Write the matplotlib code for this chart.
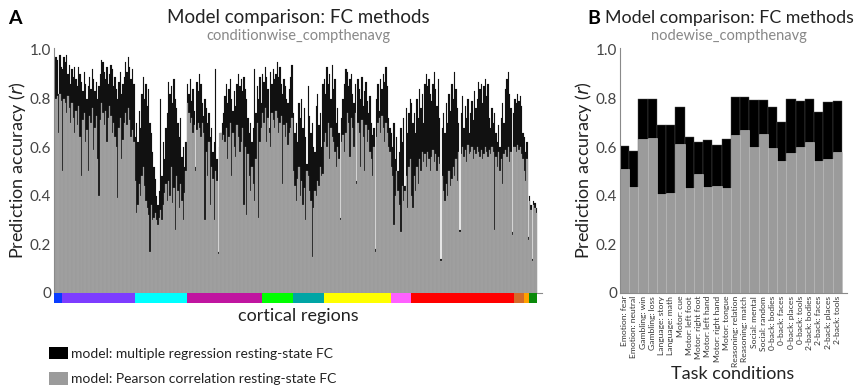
import numpy as np
import matplotlib
matplotlib.use("Agg")
import matplotlib.pyplot as plt
from matplotlib.patches import Patch

plt.rcParams["font.family"] = ["Lato", "DejaVu Sans"]

# ----------------------------------------------------------
# Panel A data: per network, multiple regression FC vs Pearson FC
# ----------------------------------------------------------
networks = ["VIS1", "VIS2", "SMN", "CON", "DAN", "LAN",
            "FPN", "AUD", "DMN", "PMM", "VMM", "ORA"]

mreg_vis1 = [0.81, 0.97, 0.96, 0.82, 0.98, 0.93]
pear_vis1 = [0.57, 0.80, 0.81, 0.66, 0.82, 0.79]

mreg_vis2 = [0.92, 0.97, 0.95, 0.98, 0.90, 0.94, 0.86, 0.92, 0.89, 0.93,
             0.88, 0.85, 0.93, 0.90, 0.87, 0.83, 0.91, 0.86, 0.80, 0.85,
             0.89, 0.84, 0.92, 0.88, 0.83, 0.87, 0.80, 0.85, 0.90, 0.96,
             0.95, 0.91, 0.88, 0.93, 0.86, 0.90, 0.94, 0.92, 0.85, 0.89,
             0.84, 0.80, 0.87, 0.91, 0.82, 0.86, 0.89, 0.95, 0.91, 0.97,
             0.93, 0.88, 0.92, 0.86]
pear_vis2 = [0.50, 0.80, 0.78, 0.74, 0.81, 0.76, 0.70, 0.78, 0.72, 0.66,
             0.75, 0.69, 0.77, 0.64, 0.48, 0.71, 0.74, 0.62, 0.67, 0.50,
             0.73, 0.70, 0.76, 0.59, 0.68, 0.73, 0.55, 0.40, 0.71, 0.78,
             0.74, 0.69, 0.75, 0.62, 0.72, 0.77, 0.73, 0.66, 0.70, 0.64,
             0.60, 0.39, 0.68, 0.72, 0.55, 0.63, 0.70, 0.74, 0.69, 0.76,
             0.71, 0.64, 0.67, 0.62]

mreg_smn = [0.64, 0.70, 0.62, 0.75, 0.68, 0.82, 0.89, 0.80, 0.86, 0.77,
            0.84, 0.70, 0.66, 0.58, 0.52, 0.47, 0.40, 0.36, 0.42, 0.80,
            0.48, 0.62, 0.55, 0.68, 0.74, 0.87, 0.82, 0.85, 0.78, 0.88,
            0.80, 0.76, 0.70, 0.64, 0.72, 0.56, 0.60, 0.52, 0.62]
pear_smn = [0.46, 0.33, 0.36, 0.45, 0.40, 0.48, 0.52, 0.44, 0.38, 0.35,
            0.32, 0.17, 0.36, 0.30, 0.31, 0.33, 0.30, 0.28, 0.31, 0.34,
            0.30, 0.36, 0.41, 0.45, 0.38, 0.46, 0.40, 0.52, 0.37, 0.43,
            0.26, 0.48, 0.42, 0.35, 0.45, 0.38, 0.30, 0.41, 0.50]

mreg_con = [0.86, 0.82, 0.88, 0.79, 0.84, 0.75, 0.52, 0.87, 0.83, 0.90,
            0.86, 0.78, 0.73, 0.80, 0.76, 0.70, 0.74, 0.64, 0.68, 0.58,
            0.62, 0.92, 0.55, 0.17, 0.60, 0.66, 0.70, 0.74, 0.81, 0.86,
            0.78, 0.84, 0.88, 0.80, 0.75, 0.83, 0.77, 0.86, 0.90, 0.85,
            0.88, 0.83, 0.89, 0.84, 0.80, 0.72, 0.66, 0.70, 0.62, 0.68,
            0.92, 0.74, 0.85, 0.80, 0.89, 0.78]
pear_con = [0.78, 0.74, 0.70, 0.72, 0.66, 0.69, 0.50, 0.67, 0.70, 0.68,
            0.64, 0.70, 0.66, 0.30, 0.58, 0.48, 0.62, 0.36, 0.52, 0.47,
            0.30, 0.50, 0.46, 0.16, 0.66, 0.66, 0.63, 0.65, 0.62, 0.68,
            0.55, 0.64, 0.70, 0.48, 0.66, 0.60, 0.56, 0.69, 0.64, 0.58,
            0.62, 0.68, 0.36, 0.60, 0.32, 0.57, 0.48, 0.42, 0.52, 0.45,
            0.38, 0.55, 0.70, 0.31, 0.62, 0.68]

mreg_dan = [0.90, 0.87, 0.93, 0.89, 0.84, 0.68, 0.91, 0.86, 0.92, 0.88,
            0.90, 0.95, 0.89, 0.93, 0.86, 0.82, 0.88, 0.85, 0.80, 0.78,
            0.84, 0.89, 0.94]
pear_dan = [0.74, 0.70, 0.76, 0.62, 0.72, 0.66, 0.60, 0.74, 0.71, 0.68,
            0.75, 0.72, 0.66, 0.70, 0.73, 0.45, 0.69, 0.64, 0.70, 0.61,
            0.66, 0.68, 0.72]

mreg_lan = [0.74, 0.66, 0.70, 0.62, 0.78, 0.72, 0.80, 0.68, 0.76, 0.64,
            0.53, 0.85, 0.73, 0.66, 0.70, 0.60, 0.58, 0.77, 0.82, 0.69,
            0.74, 0.60, 0.86]
pear_lan = [0.50, 0.44, 0.38, 0.47, 0.52, 0.40, 0.46, 0.36, 0.43, 0.30,
            0.50, 0.48, 0.42, 0.38, 0.15, 0.35, 0.42, 0.40, 0.46, 0.44,
            0.52, 0.48, 0.49]

mreg_fpn = [0.88, 0.82, 0.93, 0.86, 0.90, 0.80, 0.94, 0.84, 0.88, 0.70,
            0.76, 0.66, 0.31, 0.72, 0.80, 0.86, 0.92, 0.91, 0.85, 0.88,
            0.90, 0.82, 0.78, 0.86, 0.46, 0.88, 0.84, 0.80, 0.89, 0.77,
            0.83, 0.87, 0.79, 0.74, 0.81, 0.70, 0.65, 0.68, 0.18, 0.80,
            0.86, 0.75, 0.88, 0.84, 0.90, 0.87, 0.93, 0.85, 0.72, 0.68]
pear_fpn = [0.62, 0.66, 0.60, 0.70, 0.55, 0.68, 0.64, 0.62, 0.58, 0.52,
            0.60, 0.55, 0.30, 0.62, 0.65, 0.58, 0.66, 0.74, 0.70, 0.56,
            0.72, 0.68, 0.60, 0.74, 0.45, 0.70, 0.66, 0.52, 0.71, 0.64,
            0.50, 0.69, 0.62, 0.67, 0.58, 0.55, 0.48, 0.60, 0.17, 0.64,
            0.70, 0.72, 0.66, 0.73, 0.68, 0.62, 0.70, 0.66, 0.60, 0.58]

mreg_aud = [0.66, 0.60, 0.70, 0.55, 0.64, 0.50, 0.58, 0.68, 0.62, 0.72,
            0.44, 0.76, 0.66, 0.74, 0.80]
pear_aud = [0.52, 0.48, 0.28, 0.40, 0.50, 0.42, 0.36, 0.25, 0.44, 0.38,
            0.42, 0.48, 0.35, 0.52, 0.55]

mreg_dmn = [0.78, 0.70, 0.74, 0.66, 0.80, 0.72, 0.84, 0.76, 0.82, 0.70,
            0.86, 0.90, 0.85, 0.88, 0.82, 0.79, 0.86, 0.91, 0.84, 0.77,
            0.88, 0.72, 0.14, 0.68, 0.74, 0.66, 0.78, 0.70, 0.82, 0.75,
            0.86, 0.80, 0.91, 0.84, 0.76, 0.70, 0.26, 0.74, 0.81, 0.68,
            0.77, 0.72, 0.80, 0.66, 0.74, 0.79, 0.71, 0.83, 0.76, 0.80,
            0.87, 0.84, 0.86, 0.78, 0.85, 0.88, 0.81, 0.86, 0.72, 0.68,
            0.76, 0.70, 0.74, 0.66, 0.62, 0.69, 0.60, 0.72, 0.78, 0.70,
            0.84, 0.88, 0.91, 0.82, 0.76, 0.25, 0.74]
pear_dmn = [0.40, 0.35, 0.48, 0.42, 0.52, 0.45, 0.55, 0.50, 0.58, 0.54,
            0.57, 0.52, 0.58, 0.55, 0.50, 0.56, 0.59, 0.54, 0.57, 0.50,
            0.56, 0.53, 0.13, 0.48, 0.42, 0.38, 0.45, 0.40, 0.50, 0.44,
            0.47, 0.52, 0.48, 0.55, 0.46, 0.58, 0.25, 0.57, 0.60, 0.56,
            0.59, 0.54, 0.61, 0.57, 0.58, 0.60, 0.55, 0.59, 0.57, 0.60,
            0.58, 0.56, 0.59, 0.55, 0.57, 0.60, 0.58, 0.56, 0.59, 0.57,
            0.60, 0.58, 0.26, 0.56, 0.52, 0.58, 0.50, 0.55, 0.45, 0.57,
            0.59, 0.56, 0.60, 0.54, 0.58, 0.24, 0.60]

mreg_pmm = [0.80, 0.78, 0.82, 0.79, 0.81, 0.77, 0.66]
pear_pmm = [0.60, 0.58, 0.61, 0.59, 0.60, 0.57, 0.55]

mreg_vmm = [0.64, 0.58, 0.62, 0.23]
pear_vmm = [0.50, 0.46, 0.55, 0.22]

mreg_ora = [0.40, 0.36, 0.14, 0.38, 0.37, 0.35]
pear_ora = [0.38, 0.34, 0.13, 0.36, 0.35, 0.33]

# ----------------------------------------------------------
# Panel B data: task conditions
# ----------------------------------------------------------
task_conditions = [
    "Emotion: fear", "Emotion: neutral", "Gambling: win", "Gambling: loss",
    "Language: story", "Language: math", "Motor: cue", "Motor: left foot",
    "Motor: right foot", "Motor: left hand", "Motor: right hand",
    "Motor: tongue", "Reasoning: relation", "Reasoning: match",
    "Social: mental", "Social: random", "0-back: bodies", "0-back: faces",
    "0-back: places", "0-back: tools", "2-back: bodies", "2-back: faces",
    "2-back: places", "2-back: tools"]
mreg_task = [0.605, 0.585, 0.80, 0.80, 0.69, 0.69, 0.765, 0.64, 0.62, 0.63,
             0.61, 0.635, 0.805, 0.805, 0.795, 0.795, 0.765, 0.705, 0.80,
             0.79, 0.80, 0.745, 0.787, 0.79]
pear_task = [0.51, 0.437, 0.632, 0.636, 0.407, 0.41, 0.613, 0.432, 0.488,
             0.437, 0.44, 0.43, 0.652, 0.672, 0.602, 0.655, 0.595, 0.544,
             0.575, 0.60, 0.62, 0.544, 0.55, 0.58]

# colours (style)
NET_COLORS = ["#0a3cff", "#7d3cff", "#00ffff", "#c015a0", "#00ff00",
              "#00a5a5", "#ffff00", "#ff60ff", "#ff0000", "#d46a2a",
              "#ffa000", "#0a8a0a"]
BLACK = "#111111"
GRAY = "#9b9b9b"
TICK_COLOR = "#444444"
SPINE_COLOR = "#8a8a8a"

mreg_groups = [mreg_vis1, mreg_vis2, mreg_smn, mreg_con, mreg_dan, mreg_lan,
               mreg_fpn, mreg_aud, mreg_dmn, mreg_pmm, mreg_vmm, mreg_ora]
pear_groups = [pear_vis1, pear_vis2, pear_smn, pear_con, pear_dan, pear_lan,
               pear_fpn, pear_aud, pear_dmn, pear_pmm, pear_vmm, pear_ora]
mreg_region = np.concatenate(mreg_groups)
pear_region = np.concatenate(pear_groups)
net_sizes = [len(g) for g in mreg_groups]
n_regions = len(mreg_region)

W, H = 858, 386
fig = plt.figure(figsize=(W / 100, H / 100), dpi=100)


def fig_rect(x0, y0, x1, y1):
    # pixel box -> figure fraction [left, bottom, width, height]
    return [x0 / W, 1 - y1 / H, (x1 - x0) / W, (y1 - y0) / H]


def style_axis(ax):
    for s in ["top", "right"]:
        ax.spines[s].set_visible(False)
    for s in ["left", "bottom"]:
        ax.spines[s].set_color(SPINE_COLOR)
        ax.spines[s].set_linewidth(0.8)
    ax.set_ylim(0, 1.01)
    ax.set_yticks([0, 0.2, 0.4, 0.6, 0.8, 1.0])
    ax.set_yticklabels(["0", "0.2", "0.4", "0.6", "0.8", "1.0"])
    ax.tick_params(axis="y", length=0, pad=2, labelsize=11,
                   labelcolor=TICK_COLOR)
    ax.set_ylabel("Prediction accuracy ($\\it{r}$)", fontsize=13,
                  color="#222222", labelpad=1)


def panel_title(xc, subtitle, size):
    fig.text(xc / W, 1 - 18 / H, "Model comparison: FC methods",
             ha="center", va="center", fontsize=size, color="#222222")
    fig.text(xc / W, 1 - 36 / H, subtitle, ha="center", va="center",
             fontsize=10.5, color="#888888")


# ----------------------------------------------------------
# Panel A
# ----------------------------------------------------------
axA = fig.add_axes(fig_rect(54, 47.5, 542, 293))
x = np.arange(n_regions)
axA.bar(x, mreg_region, width=1.0, color=BLACK, edgecolor=BLACK,
        linewidth=0.1)
axA.bar(x, pear_region, width=1.0, color=GRAY, edgecolor="#aaaaaa",
        linewidth=0.15)
axA.set_xlim(-0.5, n_regions + 3.2)
axA.set_xticks([])
style_axis(axA)
panel_title(298, "conditionwise_compthenavg", 13.5)

# network colour strip
axC = fig.add_axes(fig_rect(54, 293, 54 + 483 * (n_regions + 3.7) / n_regions, 303))
starts = np.cumsum([0] + net_sizes[:-1]) - 0.5
axC.barh(0, net_sizes, left=starts, height=1.0, color=NET_COLORS,
         linewidth=0)
axC.set_xlim(-0.5, n_regions + 3.2)
axC.set_ylim(-0.5, 0.5)
axC.axis("off")
fig.text(298 / W, 1 - 316 / H, "cortical regions", ha="center",
         va="center", fontsize=13, color="#222222")

# legend
handles = [Patch(facecolor="black", edgecolor="none"),
           Patch(facecolor=GRAY, edgecolor="none")]
fig.legend(handles,
           ["model: multiple regression resting-state FC",
            "model: Pearson correlation resting-state FC"],
           loc="upper left", bbox_to_anchor=(49 / W, 1 - 347 / H),
           frameon=False, fontsize=10, handlelength=1.4, handleheight=1.0,
           handletextpad=0.2, labelspacing=0.9, borderpad=0,
           borderaxespad=0, labelcolor="#222222")

# ----------------------------------------------------------
# Panel B
# ----------------------------------------------------------
axB = fig.add_axes(fig_rect(620, 47.5, 847, 293))
xb = np.arange(len(task_conditions))
axB.bar(xb, mreg_task, width=1.0, color="black", edgecolor="#555555",
        linewidth=0.3)
axB.bar(xb, pear_task, width=1.0, color=GRAY, edgecolor="#c8c8c8",
        linewidth=0.4)
axB.set_xlim(-0.5, len(task_conditions) + 0.05)
style_axis(axB)
axB.set_xticks(xb)
axB.set_xticklabels(task_conditions, rotation=90, fontsize=6.1,
                    color="#333333")
axB.tick_params(axis="x", length=0, pad=2)
fig.text(733 / W, 1 - 374 / H, "Task conditions", ha="center",
         va="center", fontsize=13, color="#222222")
panel_title(729, "nodewise_compthenavg", 12.8)

# panel letters
fig.text(8 / W, 1 - 18 / H, "A", fontsize=14, fontweight="bold",
         ha="left", va="center")
fig.text(587 / W, 1 - 18 / H, "B", fontsize=14, fontweight="bold",
         ha="left", va="center")

fig.savefig("out.png", dpi=100)
